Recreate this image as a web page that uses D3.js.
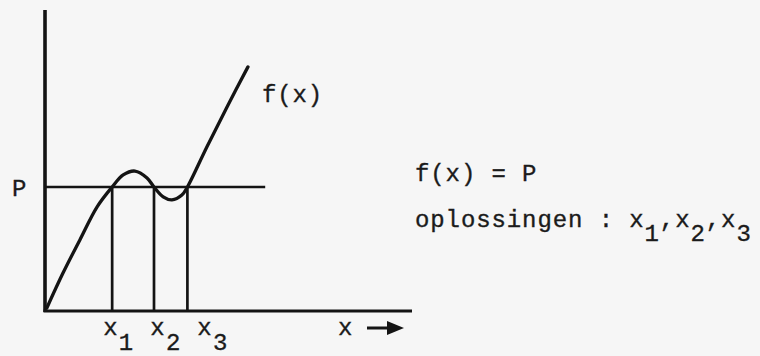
<!DOCTYPE html>
<html>
<head>
<meta charset="utf-8">
<script src="https://cdn.jsdelivr.net/npm/d3@7"></script>
<style>
  html, body { margin: 0; padding: 0; background: #f6f6f6; }
  svg { display: block; }
  text { font-family: "Liberation Mono", "Courier New", monospace; fill: #1b1b1b; stroke: #1b1b1b; stroke-width: 0.35px; }
</style>
</head>
<body>
<svg id="chart" width="760" height="356"></svg>
<script>
// Sketch of f(x) crossing the level P three times.
const curveX = [0.05, 0.49, 0.95, 1.42, 1.83, 2.13, 2.45, 2.78, 2.97, 3.22, 3.46, 3.73, 3.88, 4.41, 4.96, 5.53];
const curveY = [0.10, 1.26, 2.36, 3.46, 4.12, 4.52, 4.65, 4.42, 4.12, 3.79, 3.69, 3.85, 4.12, 5.45, 6.78, 8.11];
const levelP = 4.12;
const levelEnd = 6.0;
const roots = [1.83, 2.97, 3.88];
const rootSubs = ["1", "2", "3"];
const axisMax = [10, 10];

const svg = d3.select("#chart");
const ink = "#141414";

const x = d3.scaleLinear().domain([0, axisMax[0]]).range([45, 412]);
const y = d3.scaleLinear().domain([0, axisMax[1]]).range([311, 10]);

// axes
svg.append("line")
  .attr("x1", x(0)).attr("x2", x(0)).attr("y1", y(0) + 1).attr("y2", y(axisMax[1]))
  .attr("stroke", ink).attr("stroke-width", 3.6);
svg.append("line")
  .attr("x1", x(0) - 1.5).attr("x2", x(axisMax[0])).attr("y1", y(0)).attr("y2", y(0))
  .attr("stroke", ink).attr("stroke-width", 3);

// level P
svg.append("line")
  .attr("x1", x(0)).attr("x2", x(levelEnd)).attr("y1", y(levelP)).attr("y2", y(levelP))
  .attr("stroke", ink).attr("stroke-width", 2.6);

// verticals at the solutions
svg.selectAll("line.root").data(roots).join("line")
  .attr("class", "root")
  .attr("x1", d => x(d)).attr("x2", d => x(d))
  .attr("y1", y(levelP)).attr("y2", y(0))
  .attr("stroke", ink).attr("stroke-width", 2.7);

// the curve f(x)
const pts = curveX.map((v, i) => [v, curveY[i]]);
svg.append("path")
  .datum(pts)
  .attr("d", d3.line().x(d => x(d[0])).y(d => y(d[1])).curve(d3.curveCatmullRom.alpha(0.5)))
  .attr("fill", "none").attr("stroke", ink).attr("stroke-width", 3.3)
  .attr("stroke-linecap", "round").attr("stroke-linejoin", "round");

// labels
const fs = 24;
svg.append("text").attr("x", 12).attr("y", y(levelP) + 9)
  .attr("font-size", fs).text("P");

const last = pts[pts.length - 1];
svg.append("text").attr("x", x(last[0]) + 14).attr("y", y(last[1]) + 35)
  .attr("font-size", fs).attr("letter-spacing", 0.9).text("f(x)");

// solution labels under the axis, typed in one row
const rowLabel = svg.append("text")
  .attr("x", x(roots[0]) - 9).attr("y", y(0) + 24)
  .attr("font-size", fs).attr("letter-spacing", 1.27);
rootSubs.forEach((s, i) => {
  rowLabel.append("tspan").attr("dy", i === 0 ? 0 : -15).text((i === 0 ? "" : " ") + "x");
  rowLabel.append("tspan").attr("dy", 15).text(s);
});

// x axis caption with arrow
const capY = y(0) + 24;
svg.append("text").attr("x", 338).attr("y", capY)
  .attr("font-size", fs).text("x");
svg.append("line")
  .attr("x1", 367).attr("x2", 392).attr("y1", capY - 7).attr("y2", capY - 7)
  .attr("stroke", ink).attr("stroke-width", 3);
svg.append("path")
  .attr("d", `M387,${capY - 14} L404,${capY - 7} L387,${capY} Z`)
  .attr("fill", ink);

// statement on the right
svg.append("text").attr("x", 415).attr("y", 181)
  .attr("font-size", fs).attr("letter-spacing", 0.9).text("f(x) = P");

const sol = svg.append("text").attr("x", 415).attr("y", 227)
  .attr("font-size", fs).attr("letter-spacing", 0.9);
sol.append("tspan").text("oplossingen : ");
rootSubs.forEach((s, i) => {
  sol.append("tspan").attr("dy", i === 0 ? 0 : -14).text((i === 0 ? "" : ",") + "x");
  sol.append("tspan").attr("dy", 14).text(s);
});
</script>
</body>
</html>
